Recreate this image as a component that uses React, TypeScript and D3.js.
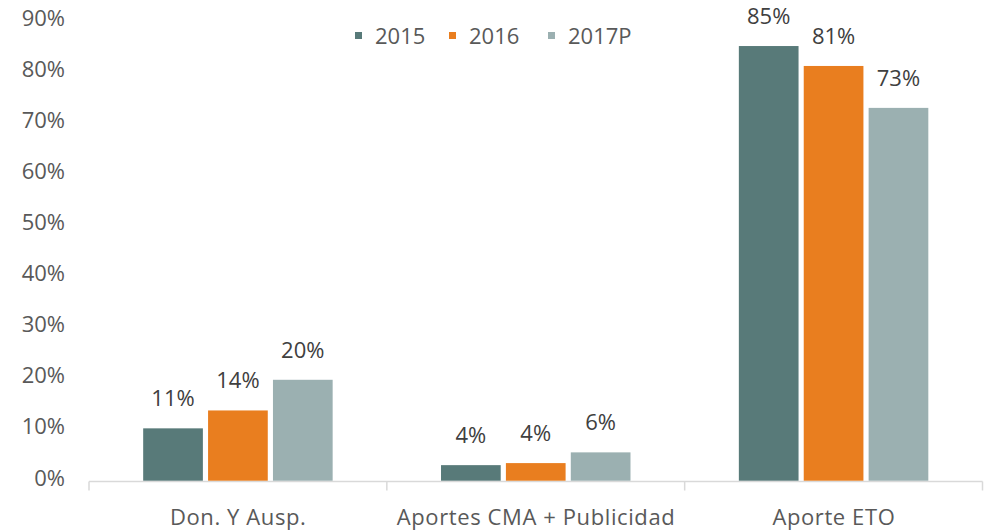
import React from "react";
import * as d3 from "d3";

const categories = ["Don. Y Ausp.", "Aportes CMA + Publicidad", "Aporte ETO"];
const seriesNames = ["2015", "2016", "2017P"];
const values2015 = [0.104, 0.032, 0.852];
const values2016 = [0.139, 0.036, 0.813];
const values2017P = [0.199, 0.057, 0.731];
const labels2015 = ["11%", "4%", "85%"];
const labels2016 = ["14%", "4%", "81%"];
const labels2017P = ["20%", "6%", "73%"];
const yTicks = [0, 0.1, 0.2, 0.3, 0.4, 0.5, 0.6, 0.7, 0.8, 0.9];
const colors = ["#587A79", "#E97E1F", "#9BB0B1"];

const W = 989;
const H = 530;
const left = 89;
const right = 982.5;
const baseY = 481.5;
const topY = 21.5;

export default function App() {
  const series = [values2015, values2016, values2017P];
  const labels = [labels2015, labels2016, labels2017P];
  const x0 = d3.scaleBand<string>().domain(categories).range([left, right]).padding(0);
  const x1 = d3
    .scaleBand<string>()
    .domain(seriesNames)
    .range([0, x0.bandwidth()])
    .paddingInner(0.08)
    .paddingOuter(0.835);
  const y = d3.scaleLinear().domain([0, 0.9]).range([baseY, topY]);
  const font = "'Open Sans', sans-serif";
  const tickXs = [left, ...categories.map((c) => (x0(c) as number) + x0.bandwidth())];
  const legendX = [355, 449, 548];
  return (
    <svg width={W} height={H} style={{ position: "absolute", left: 0, top: 0 }} fontFamily={font}>
      <rect width={W} height={H} fill="#fff" />
      {yTicks.map((t) => (
        <text key={t} x={65} y={y(t)} dy={4} textAnchor="end" fontSize={22} fill="#595959">
          {d3.format(".0%")(t)}
        </text>
      ))}
      <line x1={left} x2={right} y1={baseY} y2={baseY} stroke="#D9D9D9" strokeWidth={1.5} />
      {tickXs.map((tx, i) => (
        <line key={i} x1={tx} x2={tx} y1={baseY} y2={baseY + 9} stroke="#D9D9D9" strokeWidth={1.5} />
      ))}
      {categories.map((c, ci) => (
        <g key={c}>
          {seriesNames.map((s, si) => {
            const v = series[si][ci];
            const bx = (x0(c) as number) + (x1(s) as number);
            return (
              <g key={s}>
                <rect x={bx} y={y(v)} width={x1.bandwidth()} height={baseY - 0.8 - y(v)} fill={colors[si]} />
                <text
                  x={bx + x1.bandwidth() / 2}
                  y={y(v) - 22}
                  textAnchor="middle"
                  fontSize={22}
                  fill="#404040"
                >
                  {labels[si][ci]}
                </text>
              </g>
            );
          })}
          <text
            x={(x0(c) as number) + x0.bandwidth() / 2 + 0.3}
            y={525}
            textAnchor="middle"
            fontSize={22}
            letterSpacing={0.6}
            fill="#595959"
          >
            {c}
          </text>
        </g>
      ))}
      {seriesNames.map((s, si) => (
        <g key={s}>
          <rect x={legendX[si]} y={32} width={7} height={7} fill={colors[si]} />
          <text x={legendX[si] + 20} y={44} fontSize={22} fill="#595959">
            {s}
          </text>
        </g>
      ))}
    </svg>
  );
}
